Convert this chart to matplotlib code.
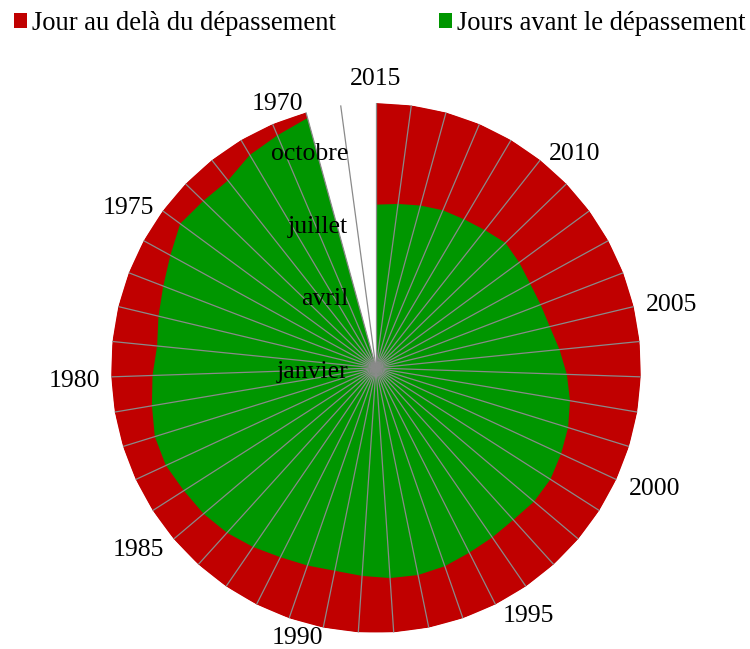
import matplotlib
matplotlib.use("Agg")
import matplotlib.pyplot as plt
import numpy as np
from matplotlib.patches import Patch

plt.rcParams["font.family"] = ["Liberation Serif", "DejaVu Serif"]

# Earth overshoot day (day of year) per year
YEARS = list(range(1970, 2016))
OVERSHOOT_DAY = [
    357, 348, 341, 329, 331, 335, 323, 314, 308, 303,
    308, 313, 319, 319, 314, 311, 306, 299, 292, 288,
    285, 287, 290, 291, 289, 285, 283, 282, 285, 285,
    281, 277, 271, 263, 254, 246, 243, 242, 245, 248,
    242, 238, 236, 232, 228, 225,
]
DAYS_IN_YEAR = 365

LABELED_YEARS = [2015, 2010, 2005, 2000, 1995, 1990, 1985, 1980, 1975, 1970]
MONTH_TICKS = [0, 100, 200, 300]
MONTH_LABELS = ["janvier", "avril", "juillet", "octobre"]
SERIES_NAMES = ["Jour au delà du dépassement", "Jours avant le dépassement"]

# category label placement (angle in degrees clockwise from top, radius in pixels)
LABEL_ANGLE = [0.0, 42.6, 77.6, 113.1, 148.2, 196.3, 232.9, 267.9, 303.2, 339.6]
LABEL_RADIUS = [291, 294, 303, 303, 290, 279, 298, 302, 296, 284]

RED = "#C00000"
GREEN = "#009600"
SPOKE = "#8A8A8A"
FONT_SIZE = 18.5
LEGEND_FONT_SIZE = 19.2

CENTER_X, CENTER_Y, RADIUS_PX = 376, 368, 265
FIG_W, FIG_H = 750, 649


def main() -> None:
    # chart order: latest year at the top, going clockwise, plus one empty slot
    categories = YEARS[::-1] + [None]
    before = np.array(OVERSHOOT_DAY[::-1] + [0], dtype=float)
    beyond = np.array([DAYS_IN_YEAR - d for d in OVERSHOOT_DAY[::-1]] + [0], dtype=float)
    total = before + beyond

    n = len(categories)
    theta = np.arange(n) * 2 * np.pi / n
    theta_closed = np.append(theta, theta[0])

    fig = plt.figure(figsize=(FIG_W / 100, FIG_H / 100), dpi=100)
    ax = fig.add_axes(
        [
            (CENTER_X - RADIUS_PX) / FIG_W,
            (FIG_H - CENTER_Y - RADIUS_PX) / FIG_H,
            2 * RADIUS_PX / FIG_W,
            2 * RADIUS_PX / FIG_H,
        ],
        projection="polar",
    )
    ax.set_theta_zero_location("N")
    ax.set_theta_direction(-1)
    ax.set_ylim(0, DAYS_IN_YEAR)

    ax.fill(theta_closed, np.append(total, total[0]), color=RED, linewidth=0, zorder=1)
    ax.fill(theta_closed, np.append(before, before[0]), color=GREEN, linewidth=0, zorder=1.5)

    ax.set_xticks(theta)
    ax.set_xticklabels([])
    ax.set_yticks([])
    ax.xaxis.grid(True, color=SPOKE, linewidth=0.9)
    ax.yaxis.grid(False)
    ax.set_axisbelow(False)
    ax.tick_params(length=0)
    ax.spines["polar"].set_visible(False)
    ax.patch.set_visible(False)

    px_to_days = DAYS_IN_YEAR / RADIUS_PX
    for year, angle, radius in zip(LABELED_YEARS, LABEL_ANGLE, LABEL_RADIUS):
        ax.annotate(
            str(year),
            xy=(np.deg2rad(angle), radius * px_to_days),
            xytext=(0, -2),
            textcoords="offset pixels",
            ha="center",
            va="center",
            fontsize=FONT_SIZE,
            annotation_clip=False,
        )

    for tick, label in zip(MONTH_TICKS, MONTH_LABELS):
        ax.annotate(
            label,
            xy=(0, tick),
            xytext=(-28, -4),
            textcoords="offset pixels",
            ha="right",
            va="center",
            fontsize=FONT_SIZE,
        )

    handles = [
        Patch(facecolor=RED, edgecolor="none", label=SERIES_NAMES[0]),
        Patch(facecolor=GREEN, edgecolor="none", label=SERIES_NAMES[1]),
    ]
    fig.legend(
        handles=handles,
        loc="upper left",
        bbox_to_anchor=(14 / FIG_W, 1 - 11 / FIG_H),
        ncol=2,
        frameon=False,
        fontsize=LEGEND_FONT_SIZE,
        handlelength=0.49,
        handleheight=0.49,
        handletextpad=0.19,
        columnspacing=3.86,
        borderpad=0,
        borderaxespad=0,
    )

    fig.savefig("out.png", dpi=100)
    plt.close(fig)


if __name__ == "__main__":
    main()
